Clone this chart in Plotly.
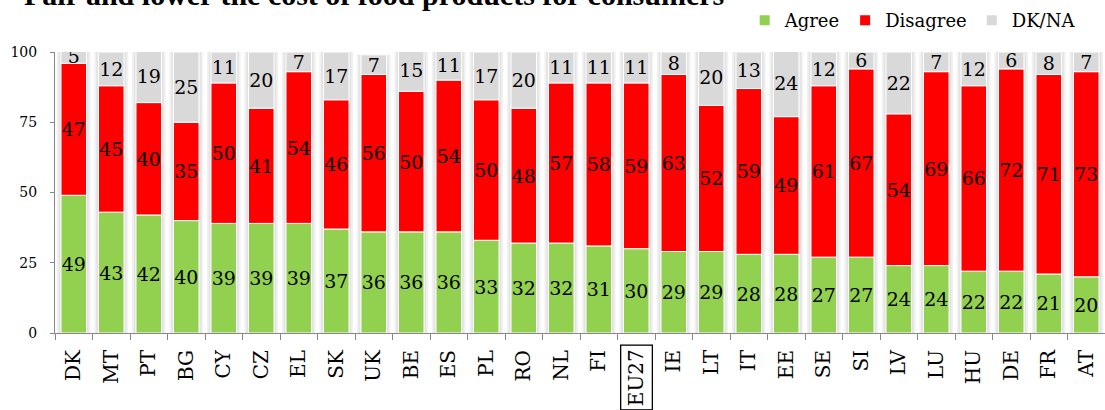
import plotly.graph_objects as go

categories = ["DK", "MT", "PT", "BG", "CY", "CZ", "EL", "SK", "UK", "BE", "ES", "PL", "RO", "NL",
              "FI", "EU27", "IE", "LT", "IT", "EE", "SE", "SI", "LV", "LU", "HU", "DE", "FR", "AT"]
agree = [49, 43, 42, 40, 39, 39, 39, 37, 36, 36, 36, 33, 32, 32, 31, 30, 29, 29, 28, 28, 27, 27, 24, 24, 22, 22, 21, 20]
disagree = [47, 45, 40, 35, 50, 41, 54, 46, 56, 50, 54, 50, 48, 57, 58, 59, 63, 52, 59, 49, 61, 67, 54, 69, 66, 72, 71, 73]
dkna = [5, 12, 19, 25, 11, 20, 7, 17, 7, 15, 11, 17, 20, 11, 11, 11, 8, 20, 13, 24, 12, 6, 22, 7, 12, 6, 8, 7]
title_text = "Fair and lower the cost of food products for consumers"
highlight = "EU27"

FONT = "DejaVu Serif"
totals = [a + d + k for a, d, k in zip(agree, disagree, dkna)]
base_dis = agree
base_dk = [a + d for a, d in zip(agree, disagree)]

fig = go.Figure()
# soft shadows behind bars
for w, c in [(0.9, "#f1f1f1"), (0.8, "#e3e3e3")]:
    fig.add_trace(go.Bar(x=categories, y=totals, width=w, marker=dict(color=c, line=dict(width=0)),
                         showlegend=False, hoverinfo="skip"))

series = [("Agree", agree, [0] * len(agree), "#92D050"),
          ("Disagree", disagree, base_dis, "#FF0000"),
          ("DK/NA", dkna, base_dk, "#D9D9D9")]
for name, vals, base, col in series:
    fig.add_trace(go.Bar(
        x=categories, y=vals, base=base, name=name, width=0.68,
        marker=dict(color=col, line=dict(color="white", width=1)),
        text=vals, textposition="inside", insidetextanchor="middle",
        constraintext="none", textangle=0,
        textfont=dict(family=FONT, size=19, color="black"),
    ))

ticktext = ["" if c == highlight else c for c in categories]
fig.update_layout(
    barmode="overlay",
    width=1105, height=410,
    margin=dict(l=55, r=0, t=52, b=77),
    plot_bgcolor="white", paper_bgcolor="white",
    font=dict(family=FONT, color="black"),
    legend=dict(orientation="h", x=0.978, xanchor="right", xref="container",
                y=0.95, yanchor="middle", yref="container",
                font=dict(family=FONT, size=18), traceorder="normal",
                itemwidth=30, itemsizing="constant"),
    xaxis=dict(type="category", tickmode="array", tickvals=categories, ticktext=ticktext,
               tickangle=-90, tickfont=dict(family=FONT, size=20), ticklabelstandoff=8,
               showline=True, linecolor="#888888", linewidth=1,
               ticks="outside", tickson="boundaries", ticklen=6, tickcolor="#888888",
               range=[-0.5, len(categories) - 0.5], showgrid=False),
    yaxis=dict(range=[0, 100], tickvals=[0, 25, 50, 75, 100], tickfont=dict(family=FONT, size=14),
               showline=True, linecolor="#888888", linewidth=1, ticks="outside", ticklen=4,
               ticklabelstandoff=10,
               tickcolor="#888888", showgrid=False, zeroline=False),
)
fig.add_annotation(x=-0.031, xref="paper", xanchor="left", y=1.205, yref="paper", yanchor="middle",
                   text="<b>" + title_text + "</b>", showarrow=False,
                   font=dict(family="Liberation Serif", size=30, color="black"))
fig.add_annotation(x=highlight, y=-0.04, xref="x", yref="paper", yanchor="top",
                   text=highlight, textangle=-90, showarrow=False,
                   font=dict(family=FONT, size=20, color="black"),
                   bordercolor="black", borderwidth=1.3, borderpad=3)
fig.write_html("out.html", config={"displayModeBar": False},
               post_script="document.body.style.margin='0';")
